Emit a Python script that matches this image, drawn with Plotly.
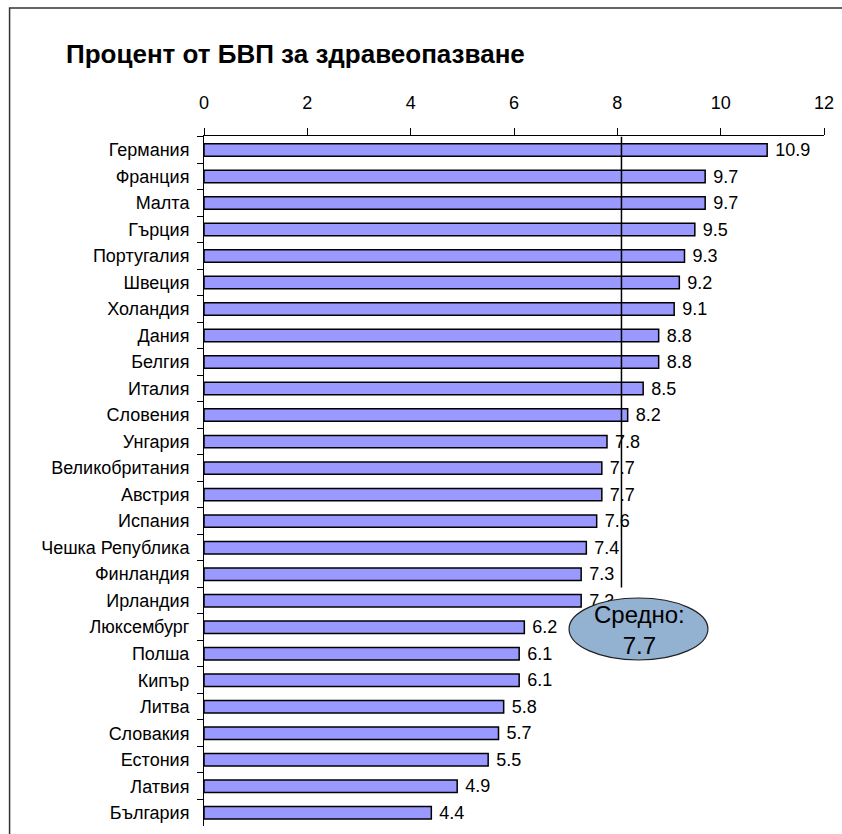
import plotly.graph_objects as go

# Health expenditure as % of GDP, EU member states
countries = [
    "Германия", "Франция", "Малта", "Гърция", "Португалия", "Швеция",
    "Холандия", "Дания", "Белгия", "Италия", "Словения", "Унгария",
    "Великобритания", "Австрия", "Испания", "Чешка Република", "Финландия",
    "Ирландия", "Люксембург", "Полша", "Кипър", "Литва", "Словакия",
    "Естония", "Латвия", "България",
]
values = [
    10.9, 9.7, 9.7, 9.5, 9.3, 9.2, 9.1, 8.8, 8.8, 8.5, 8.2, 7.8,
    7.7, 7.7, 7.6, 7.4, 7.3, 7.3, 6.2, 6.1, 6.1, 5.8, 5.7, 5.5, 4.9, 4.4,
]
average_label = "Средно:<br>7.7"
reference_x = 8.08          # position of the vertical marker line
x_ticks = [0, 2, 4, 6, 8, 10, 12]

FONT = "Liberation Sans, Arial, sans-serif"
W, H = 842, 834
ML, MR, MT, MB = 204, 13, 136, 8

fig = go.Figure(
    go.Bar(
        x=values,
        y=countries,
        orientation="h",
        marker=dict(color="#9999FF", line=dict(color="#000000", width=1.5)),
        text=[f" {v:.1f}" for v in values],
        textposition="outside",
        constraintext="none",
        textfont=dict(family=FONT, size=18, color="#000000"),
        cliponaxis=False,
        hoverinfo="skip",
    )
)

# vertical marker line from the top axis down to the bottom of the Финландия band
fig.add_shape(
    type="line", xref="x", yref="y",
    x0=reference_x, x1=reference_x, y0=-0.5, y1=countries.index("Финландия") + 0.5,
    line=dict(color="#000000", width=1.5), layer="above",
)

# callout ellipse with the average
def px_to_paper_x(px):
    return (px - ML) / (W - ML - MR)

def px_to_paper_y(py):
    return 1 - (py - MT) / (H - MT - MB)

fig.add_shape(
    type="circle", xref="paper", yref="paper",
    x0=px_to_paper_x(572), x1=px_to_paper_x(712),
    y0=px_to_paper_y(660), y1=px_to_paper_y(598),
    fillcolor="#93B1D1", line=dict(color="#222222", width=1.2), layer="above",
)
fig.add_annotation(
    xref="paper", yref="paper",
    x=px_to_paper_x(643), y=px_to_paper_y(630),
    text=average_label, showarrow=False,
    font=dict(family=FONT, size=24, color="#000000"),
    align="center", xanchor="center", yanchor="middle",
)

# outer frame of the chart
fig.add_shape(
    type="rect", xref="paper", yref="paper",
    x0=px_to_paper_x(8), x1=px_to_paper_x(900),
    y0=px_to_paper_y(900), y1=px_to_paper_y(8),
    line=dict(color="#333333", width=1.5), fillcolor="rgba(0,0,0,0)", layer="below",
)

fig.update_layout(
    width=W, height=H,
    margin=dict(l=ML, r=MR, t=MT, b=MB),
    paper_bgcolor="#FFFFFF", plot_bgcolor="#FFFFFF",
    showlegend=False,
    bargap=0.53,
    title=dict(
        text="<b>Процент от БВП за здравеопазване</b>",
        x=66 / W, xanchor="left", xref="container",
        y=1 - 54 / H, yanchor="middle", yref="container",
        font=dict(family=FONT, size=26, color="#000000"),
    ),
    xaxis=dict(
        side="top", range=[0, 12], tickvals=x_ticks,
        showgrid=False, zeroline=False,
        showline=True, linecolor="#000000", linewidth=1,
        ticks="outside", ticklen=7, tickcolor="#000000",
        ticklabelstandoff=12,
        tickfont=dict(family=FONT, size=18, color="#000000"),
    ),
    yaxis=dict(
        autorange="reversed", showgrid=False, zeroline=False,
        showline=True, linecolor="#000000", linewidth=1,
        ticks="outside", ticklen=6, tickcolor="#000000", tickson="boundaries",
        ticklabelstandoff=10,
        tickfont=dict(family=FONT, size=18, color="#000000"),
    ),
    font=dict(family=FONT),
)

fig.write_html("out.html", config={"displayModeBar": False})
